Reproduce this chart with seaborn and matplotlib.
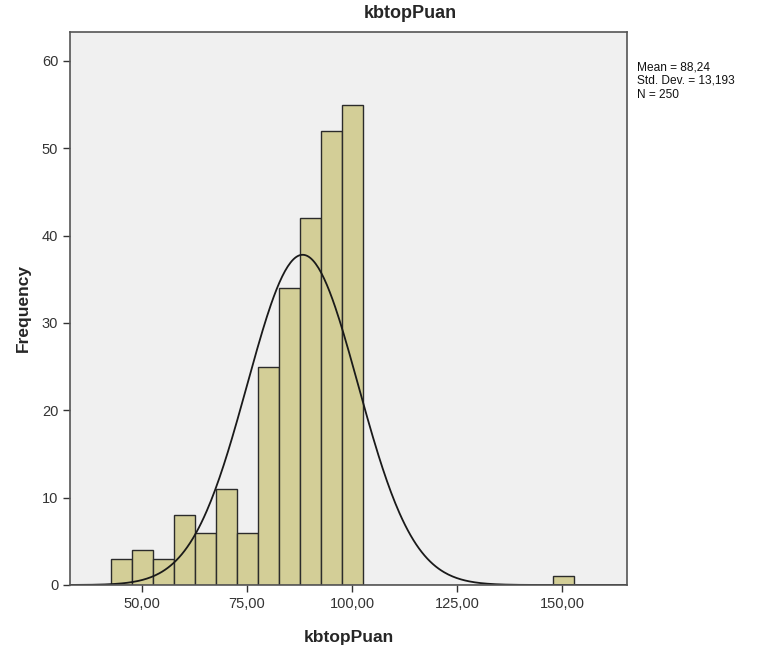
import numpy as np
import pandas as pd
import matplotlib
matplotlib.use("Agg")
import matplotlib.pyplot as plt
import seaborn as sns
from matplotlib.ticker import FuncFormatter

# histogram: bins of width 5 starting at 42.7
bin_start = 42.7
bin_width = 5.0
counts = [3, 4, 3, 8, 6, 11, 6, 25, 34, 42, 52, 55,
          0, 0, 0, 0, 0, 0, 0, 0, 0, 1]
mean = 88.24
std_dev = 13.193
n_total = 250
x_ticks = [50, 75, 100, 125, 150]
y_ticks = [0, 10, 20, 30, 40, 50, 60]

edges = bin_start + bin_width * np.arange(len(counts) + 1)
centers = (edges[:-1] + edges[1:]) / 2
df = pd.DataFrame({"kbtopPuan": centers, "count": counts})

sns.set_style("white")
plt.rcParams["font.family"] = ["Liberation Sans", "DejaVu Sans"]

fig = plt.figure(figsize=(7.62, 6.55), dpi=100)
ax = fig.add_axes([70 / 762, 1 - 585 / 655, 557 / 762, 553 / 655])
ax.set_facecolor("#f0f0f0")

sns.histplot(data=df, x="kbtopPuan", weights="count", bins=[float(e) for e in edges], ax=ax,
             color="#d3ce97", edgecolor="#2b2b2b", linewidth=1.0, alpha=1)

xmin, xmax = 32.9, 165.4
xs = np.linspace(xmin, xmax, 400)
ys = n_total * bin_width / (std_dev * np.sqrt(2 * np.pi)) * np.exp(-0.5 * ((xs - mean) / std_dev) ** 2)
sns.lineplot(x=xs, y=ys, ax=ax, color="#1a1a1a", linewidth=1.3)

ax.set_xlim(xmin, xmax)
ax.set_ylim(0, 63.3)
ax.set_xticks(x_ticks)
ax.set_yticks(y_ticks)
ax.xaxis.set_major_formatter(FuncFormatter(lambda v, p: f"{v:.2f}".replace(".", ",")))
ax.tick_params(axis="both", direction="out", length=5, width=1, color="#333333",
               labelsize=10.5, labelcolor="#333333", bottom=True, left=True)
for s in ax.spines.values():
    s.set_color("#555555")
    s.set_linewidth(1.2)

ax.set_xlabel("kbtopPuan", fontsize=12.5, fontweight="bold", labelpad=14)
ax.set_ylabel("Frequency", fontsize=12.5, fontweight="bold", labelpad=8)
fig.text(410 / 762, 1 - 14 / 655, "kbtopPuan", ha="center", va="center",
         fontsize=13, fontweight="bold")
mean_txt = f"{mean:.2f}".replace(".", ",")
sd_txt = f"{std_dev:.3f}".replace(".", ",")
fig.text(637 / 762, 1 - 61 / 655,
         f"Mean = {mean_txt}\nStd. Dev. = {sd_txt}\nN = {n_total}",
         ha="left", va="top", fontsize=8.6, linespacing=1.2, color="#111111")

plt.savefig("out.png", dpi=100)
